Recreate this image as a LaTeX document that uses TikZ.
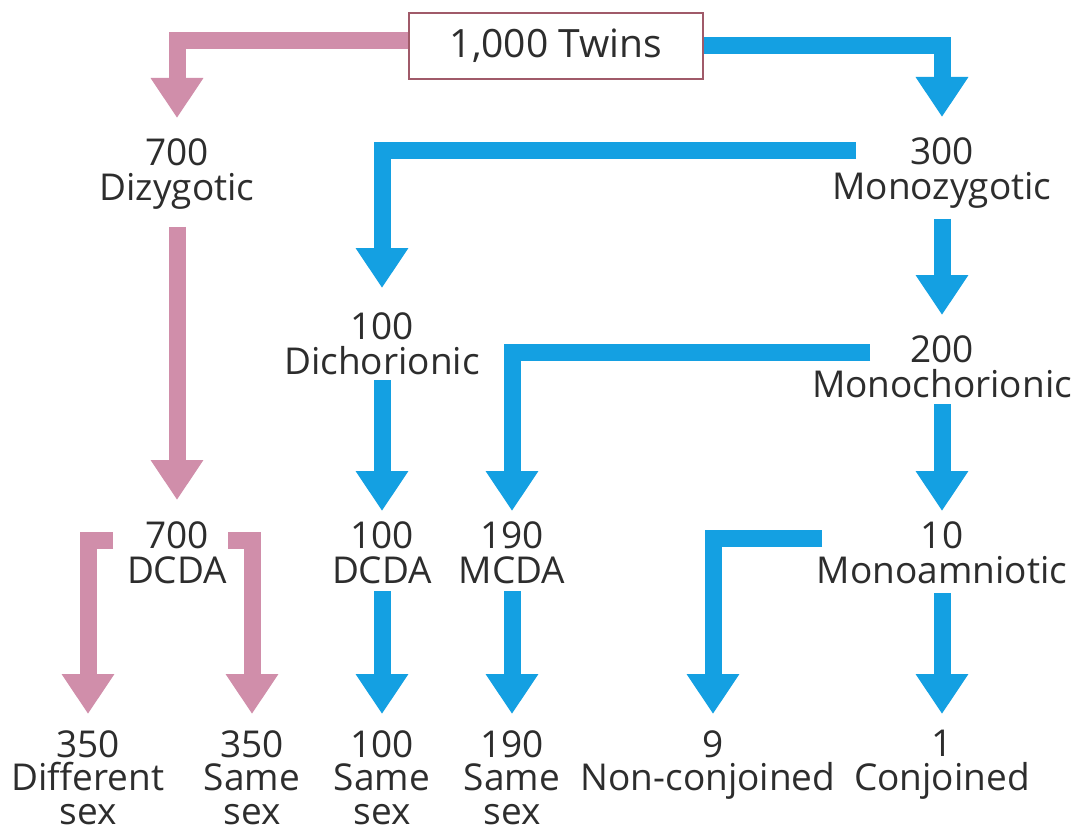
\documentclass[tikz,border=0pt]{standalone}
\usepackage{fontspec}
\setmainfont{Open Sans}
\usetikzlibrary{arrows.meta}
\definecolor{pk}{RGB}{208,142,170}
\definecolor{bl}{RGB}{20,160,226}
\definecolor{tx}{RGB}{45,45,45}
\definecolor{bx}{RGB}{160,90,105}
\begin{document}
\begin{tikzpicture}[x=1pt,y=-1pt,
  lbl/.style={align=center,inner sep=0pt,anchor=north,text=tx,
    font=\fontsize{37}{35.8}\selectfont},
  btm/.style={lbl,font=\fontsize{37}{33.5}\selectfont},
  flow/.style={line width=17pt,-{Triangle[width=50pt,length=40pt]}},
  pflow/.style={flow,draw=pk},
  bflow/.style={flow,draw=bl}]
\fill[white] (0,0) rectangle (1078,832);
\useasboundingbox (0,0) rectangle (1078,832);
% nodes
\node[draw=bx,line width=1.5pt,minimum width=294pt,minimum height=66pt,inner sep=0pt,
  text=tx,font=\fontsize{39}{42}\selectfont] (twins) at (556,46) {1,000 Twins};
\node[lbl] (dz) at (177,138) {700\\Dizygotic};
\node[lbl] (mz) at (942,137) {300\\Monozygotic};
\node[lbl] (dc) at (382,312) {100\\Dichorionic};
\node[lbl] (mc) at (942,335) {200\\Monochorionic};
\node[lbl] (dcda1) at (177,521) {700\\DCDA};
\node[lbl] (dcda2) at (382,521) {100\\DCDA};
\node[lbl] (mcda) at (512,521) {190\\MCDA};
\node[lbl] (ma) at (942,521) {10\\Monoamniotic};
\node[btm] (diff) at (88,730) {350\\Different\\sex};
\node[btm] (same1) at (252,730) {350\\Same\\sex};
\node[btm] (same2) at (382,730) {100\\Same\\sex};
\node[btm] (same3) at (512,730) {190\\Same\\sex};
\node[btm] (nc) at (708,730) {\hspace*{10pt}9\\Non-conjoined};
\node[btm] (cj) at (942,730) {1\\Conjoined};
% connectors
\draw[pflow] ([yshift=5pt]twins.west) -| ([yshift=20pt]dz.north);
\draw[bflow] (twins.east) -| ([yshift=20pt]mz.north);
\draw[bflow] ([xshift=-86pt,yshift=-13pt]mz.north) -| ([yshift=24pt]dc.north);
\draw[bflow] ([yshift=-10pt]mz.south) -- ([yshift=20pt]mc.north);
\draw[bflow] ([xshift=-72pt,yshift=-17pt]mc.north) -| ([yshift=10pt]mcda.north);
\draw[bflow] ([yshift=-5pt]dc.south) -- ([yshift=10pt]dcda2.north);
\draw[bflow] ([yshift=-6pt]mc.south) -- ([yshift=10pt]ma.north);
\draw[pflow] ([yshift=-17pt]dz.south) -- ([yshift=21pt]dcda1.north);
\draw[pflow] ([xshift=-64pt,yshift=-19pt]dcda1.north) -| ([yshift=16pt]diff.north);
\draw[pflow] ([xshift=51pt,yshift=-19pt]dcda1.north) -| ([yshift=16pt]same1.north);
\draw[bflow] ([yshift=-7pt]dcda2.south) -- ([yshift=16pt]same2.north);
\draw[bflow] ([yshift=-7pt]mcda.south) -- ([yshift=16pt]same3.north);
\draw[bflow] ([xshift=-120pt,yshift=-17pt]ma.north) -| ([xshift=5pt,yshift=16pt]nc.north);
\draw[bflow] ([yshift=-9pt]ma.south) -- ([yshift=16pt]cj.north);
\end{tikzpicture}
\end{document}
